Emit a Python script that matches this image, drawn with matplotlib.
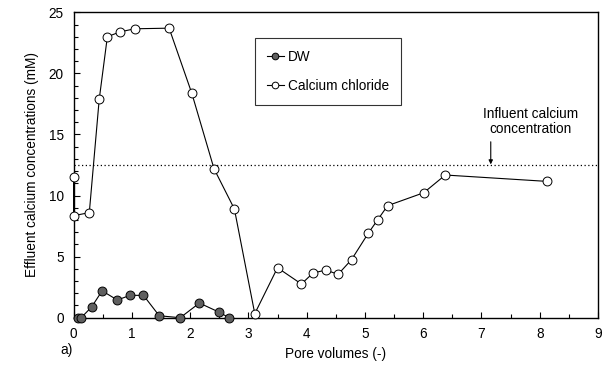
import numpy as np
import matplotlib
matplotlib.use("Agg")
import matplotlib.pyplot as plt
from matplotlib.ticker import MultipleLocator

########## DATA ##########

# DW (filled markers)
dw_pv = [0.07, 0.13, 0.31, 0.49, 0.75, 0.97, 1.20, 1.47, 1.83, 2.16, 2.49, 2.67]
dw_ca = [0.0, 0.0, 0.88, 2.2, 1.45, 1.83, 1.83, 0.16, 0.0, 1.2, 0.47, 0.0]

# Calcium chloride (open markers)
cacl_pv = [0.0, 0.0, 0.27, 0.44, 0.58, 0.80, 1.05, 1.64, 2.03, 2.41, 2.76,
           3.11, 3.50, 3.91, 4.11, 4.33, 4.54, 4.77, 5.06, 5.22, 5.39,
           6.01, 6.38, 8.12]
cacl_ca = [11.5, 8.35, 8.6, 17.87, 23.0, 23.4, 23.65, 23.7, 18.36, 12.2, 8.9,
           0.33, 4.09, 2.76, 3.66, 3.9, 3.55, 4.75, 6.93, 8.02, 9.17,
           10.23, 11.68, 11.16]

influent = 12.5

########## PLOT ##########

plt.rcParams['font.family'] = ['Liberation Sans', 'DejaVu Sans']
fs = 9.8

fig = plt.figure(figsize=(6.08, 3.69), dpi=100)
ax = fig.add_axes([0.121, 0.139, 0.8625, 0.8277])

ax.axhline(influent, color='k', lw=0.9, ls=(0, (1, 2)), zorder=1)

ax.plot(dw_pv, dw_ca, '-o', color='k', lw=0.8, ms=6.4,
        mfc='#5f5f5f', mec='k', mew=0.7, label='DW', clip_on=False, zorder=3)
ax.plot(cacl_pv, cacl_ca, '-o', color='k', lw=0.8, ms=6.4,
        mfc='white', mec='k', mew=0.7, label='Calcium chloride',
        clip_on=False, zorder=4)

ax.annotate('', xy=(7.16, influent + 0.05), xytext=(7.16, 14.4),
            arrowprops=dict(arrowstyle='-|>', color='k', lw=0.8,
                            mutation_scale=6, shrinkA=0, shrinkB=0))
ax.text(7.84, 14.85, 'Influent calcium\nconcentration', ha='center',
        va='bottom', fontsize=fs, linespacing=1.15)

ax.set_xlim(0, 9)
ax.set_ylim(0, 25)
ax.xaxis.set_major_locator(MultipleLocator(1))
ax.xaxis.set_minor_locator(MultipleLocator(0.5))
ax.yaxis.set_major_locator(MultipleLocator(5))
ax.yaxis.set_minor_locator(MultipleLocator(1))
ax.tick_params(which='both', direction='in', labelsize=fs, width=0.8)
ax.tick_params(which='major', length=4)
ax.tick_params(which='minor', length=3)
ax.tick_params(axis='x', pad=7)
ax.tick_params(axis='y', pad=7)
for s in ax.spines.values():
    s.set_linewidth(1.0)

ax.set_xlabel('Pore volumes (-)', fontsize=fs, labelpad=4)
ax.set_ylabel('Effluent calcium concentrations (mM)', fontsize=fs, labelpad=7)
fig.text(0.1, 0.04, 'a)', fontsize=fs)

leg = ax.legend(loc='upper left', bbox_to_anchor=(0.346, 0.916),
                borderaxespad=0, fontsize=fs, handlelength=1.3,
                handletextpad=0.3, labelspacing=1.15, borderpad=0.85,
                fancybox=False, edgecolor='k', markerscale=0.75)
leg.get_frame().set_linewidth(0.8)

plt.savefig('out.png', dpi=100)
plt.close()
